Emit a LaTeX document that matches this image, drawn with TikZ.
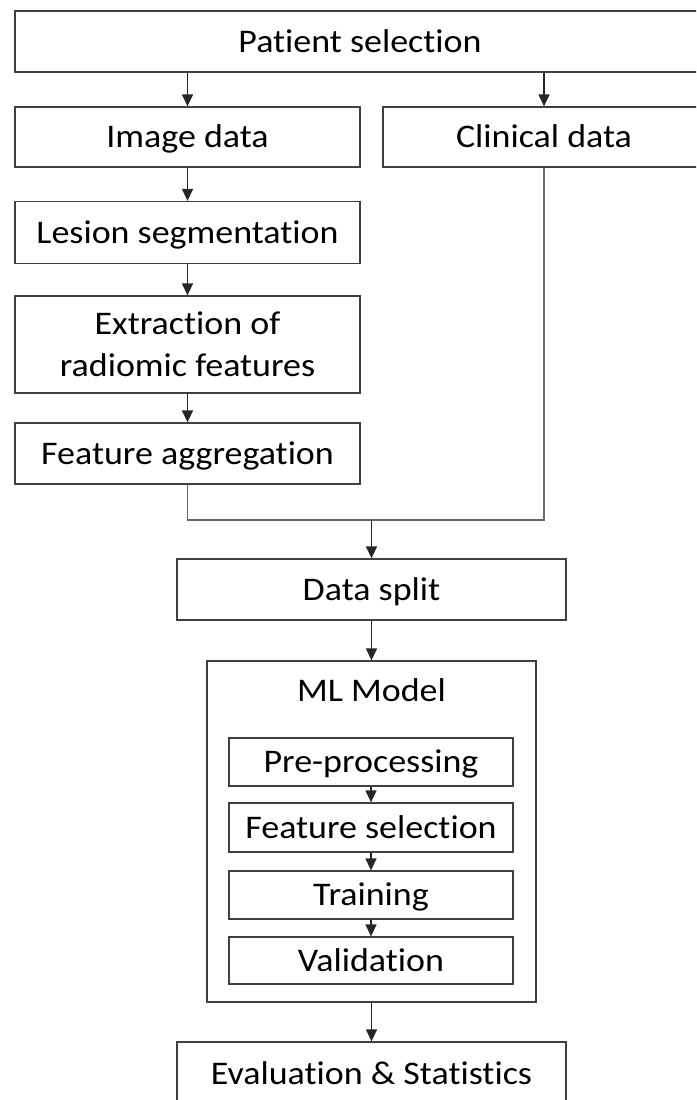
\documentclass[tikz,border=0pt]{standalone}
\usepackage{fontspec}
\setmainfont{Carlito}[Ligatures={NoCommon}, FakeStretch=1.09]
\usetikzlibrary{arrows.meta}
\begin{document}
\begin{tikzpicture}[x=1pt,y=-1pt,
  txt/.style={inner sep=0pt, align=center, font=\fontsize{33}{42}\selectfont},
  box/.style={txt, draw=black!75, line width=1.3pt, fill=white},
  oneline/.style={text height=29pt, text depth=8pt},
  arr/.style={draw=black!85, line width=1.3pt, -{Triangle[length=12pt,width=11pt]}},
  ln/.style={draw=black!60, line width=1.3pt}]
\useasboundingbox (0,0) rectangle (696,1100);
\clip (0,0) rectangle (696,1100);
\fill[white] (0,0) rectangle (696,1100);

% top row
\node[box, oneline, minimum width=690, minimum height=61] (ps) at (360,41.5) {Patient selection};
\node[box, oneline, minimum width=345, minimum height=60] (img) at (187.5,137) {Image data};
\node[box, oneline, minimum width=322, minimum height=60] (clin) at (544,137) {Clinical data};

% image branch
\node[box, oneline, minimum width=345, minimum height=62] (seg) at (187.5,232.5) {Lesion segmentation};
\node[box, minimum width=345, minimum height=97] (ext) at (187.5,344.5) {Extraction of\\radiomic features};
\node[box, oneline, minimum width=345, minimum height=61] (agg) at (187.5,453.5) {Feature aggregation};

% merged flow
\node[box, oneline, minimum width=389, minimum height=61] (split) at (371.5,589.5) {Data split};
\node[box, minimum width=329, minimum height=341] (ml) at (371.5,831.5) {};
\node[txt, oneline] (mltitle) at (371.5,691) {ML Model};
\node[box, oneline, minimum width=284, minimum height=48] (pre) at (371,762) {Pre-processing};
\node[box, oneline, minimum width=284, minimum height=49] (fs) at (371,827.5) {Feature selection};
\node[box, oneline, minimum width=284, minimum height=48] (tr) at (371,895) {Training};
\node[box, oneline, minimum width=284, minimum height=47] (val) at (371,960.5) {Validation};
\node[box, oneline, minimum width=389, minimum height=64] (eval) at (371.5,1074) {Evaluation \& Statistics};

% connectors
\draw[arr] (ps.south -| img) -- (img.north);
\draw[arr] (ps.south -| clin) -- (clin.north);
\draw[arr] (img) -- (seg);
\draw[arr] (seg) -- (ext);
\draw[arr] (ext) -- (agg);
\coordinate (join) at (371.5,520);
\draw[ln] (agg.south) |- (join) -| (clin.south);
\draw[arr] (join) -- (split.north);
\draw[arr] (split) -- (ml.north);
\draw[arr] (pre) -- (fs);
\draw[arr] (fs) -- (tr);
\draw[arr] (tr) -- (val);
\draw[arr] (ml.south) -- (eval.north);
\end{tikzpicture}
\end{document}
